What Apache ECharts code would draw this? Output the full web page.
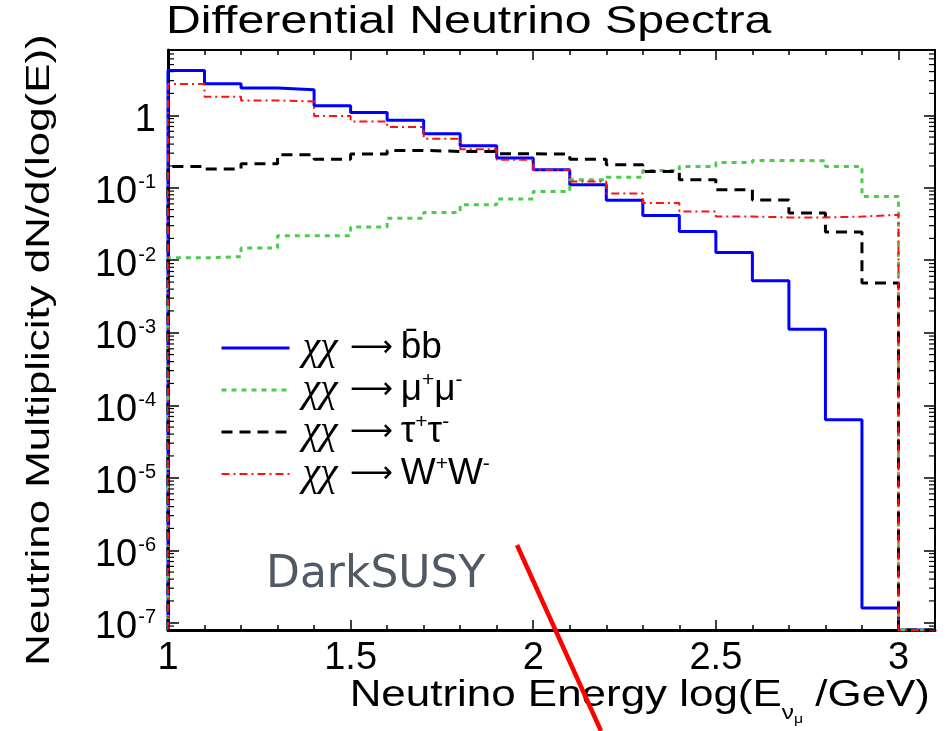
<!DOCTYPE html>
<html>
<head>
<meta charset="utf-8">
<script src="https://cdn.jsdelivr.net/npm/echarts@6/dist/echarts.min.js"></script>
<style>
  html, body { margin: 0; padding: 0; background: #ffffff; }
  #chart { width: 951px; height: 731px; }
</style>
</head>
<body>
<div id="chart"></div>
<script>
// Lower edges of the 0.1-wide bins in log10(E / GeV)
const binLow = [1.0, 1.1, 1.2, 1.3, 1.4, 1.5, 1.6, 1.7, 1.8, 1.9,
                2.0, 2.1, 2.2, 2.3, 2.4, 2.5, 2.6, 2.7, 2.8, 2.9];
const lastEdge = 3.0;
const axisEnd = 3.1;

// Neutrino multiplicity per bin, one array per annihilation channel
const bbbar  = [4.15, 2.72, 2.37, 2.25, 1.35, 1.09, 0.85, 0.556, 0.38, 0.257,
                0.177, 0.11, 0.067, 0.0415, 0.025, 0.0128, 0.0052, 0.00112, 6.3e-5, 1.6e-7];
const mumu   = [0.0108, 0.0112, 0.0147, 0.0218, 0.0218, 0.0287, 0.038, 0.0457, 0.0583, 0.0698,
                0.089, 0.129, 0.14, 0.173, 0.197, 0.223, 0.238, 0.236, 0.197, 0.076];
const tautau = [0.197, 0.181, 0.214, 0.285, 0.248, 0.291, 0.327, 0.317, 0.317, 0.294,
                0.291, 0.248, 0.207, 0.168, 0.129, 0.094, 0.068, 0.0448, 0.0245, 0.00484];
const wwpair = [2.7, 1.8, 1.6, 1.55, 0.98, 0.82, 0.69, 0.475, 0.34, 0.243,
                0.177, 0.122, 0.083, 0.0615, 0.047, 0.040, 0.039, 0.039, 0.040, 0.0424];

// Channel names and their legend text (rich-text superscripts)
const channels = ['χχ → b\u0304b', 'χχ → μ+μ-', 'χχ → τ+τ-', 'χχ → W+W-'];
const channelRich = [
  '{chi|χχ}{arr|⟶}b\u0304b',
  '{chi|χχ}{arr|⟶}μ{sup|+}μ{sup|-}',
  '{chi|χχ}{arr|⟶}τ{sup|+}τ{sup|-}',
  '{chi|χχ}{arr|⟶}W{sup|+}W{sup|-}'
];

// Vertical range: 10^-7.1 .. 10^0.9
const yMin = Math.pow(10, -7.1);
const yMax = Math.pow(10, 0.9);

// Decades and in-between multipliers for the small log ticks
const tickDecades = [1e-8, 1e-7, 1e-6, 1e-5, 1e-4, 1e-3, 1e-2, 1e-1, 1];
const tickMultipliers = [2, 3, 4, 5, 6, 7, 8, 9];

const FONT = 'Liberation Sans, Arial, Helvetica, sans-serif';

// Histogram outline: empty bins sit on the bottom of the frame
function histogram(values) {
  const pts = [[binLow[0], yMin]];
  values.forEach((v, i) => pts.push([binLow[i], v]));
  pts.push([lastEdge, yMin]);
  pts.push([axisEnd, yMin]);
  return pts;
}

const styles = [
  { color: '#0000ff', width: 3, type: 'solid' },
  { color: '#4ccc4c', width: 3, type: [5, 5] },
  { color: '#000000', width: 3, type: [11, 7] },
  { color: '#ff1010', width: 2, type: [8, 4, 2, 4] }
];
const seriesValues = [bbbar, mumu, tautau, wwpair];

const series = seriesValues.map((vals, i) => ({
  name: channels[i],
  type: 'line',
  xAxisIndex: 0,
  yAxisIndex: 0,
  step: 'end',
  symbol: 'none',
  showSymbol: false,
  animation: false,
  clip: true,
  data: histogram(vals),
  lineStyle: { color: styles[i].color, width: styles[i].width, type: styles[i].type },
  itemStyle: { color: styles[i].color }
}));

// Logarithmic minor ticks on the left and right frame edges
const minorTickValues = [];
tickDecades.forEach(d => tickMultipliers.forEach(m => {
  const v = d * m;
  if (v > yMin && v < yMax) minorTickValues.push([1, v]);
}));
series.push({
  type: 'custom',
  name: 'minor ticks',
  coordinateSystem: 'cartesian2d',
  xAxisIndex: 0,
  yAxisIndex: 0,
  silent: true,
  animation: false,
  clip: false,
  z: 5,
  encode: { x: 0, y: 1 },
  data: minorTickValues,
  renderItem: function (params, api) {
    const p = api.coord([1, api.value(1)]);
    const cs = params.coordSys;
    const len = 6;
    return {
      type: 'group',
      children: [
        { type: 'line', shape: { x1: cs.x, y1: p[1], x2: cs.x + len, y2: p[1] },
          style: { stroke: '#000', lineWidth: 1.2 } },
        { type: 'line', shape: { x1: cs.x + cs.width - len, y1: p[1], x2: cs.x + cs.width, y2: p[1] },
          style: { stroke: '#000', lineWidth: 1.2 } }
      ]
    };
  }
});

function yLabel(v) {
  const e = Math.round(Math.log10(v));
  return e === 0 ? '{m|1}' : '{m|10}{sup|' + e + '}';
}

const frameTicksX = {
  type: 'value', min: 1, max: axisEnd, interval: 0.5,
  splitLine: { show: false },
  axisTick: { show: true, inside: true, length: 10, lineStyle: { color: '#000', width: 1.5 } },
  minorTick: { show: true, splitNumber: 5, length: 5, lineStyle: { color: '#000', width: 1.5 } },
  minorSplitLine: { show: false }
};
const frameTicksY = {
  type: 'log', min: yMin, max: yMax, logBase: 10,
  splitLine: { show: false },
  axisTick: { show: true, inside: true, length: 11, lineStyle: { color: '#000', width: 1.5 } },
  minorTick: { show: false },
  minorSplitLine: { show: false }
};

const option = {
  backgroundColor: '#ffffff',
  animation: false,
  grid: { left: 168, right: 16, top: 50, bottom: 101, containLabel: false },
  xAxis: [
    Object.assign({}, frameTicksX, {
      position: 'bottom',
      axisLine: { show: true, onZero: false, lineStyle: { color: '#000', width: 3 } },
      axisLabel: { show: true, fontFamily: FONT, fontSize: 38, color: '#000', margin: 10,
                   showMaxLabel: false, showMinLabel: true }
    }),
    Object.assign({}, frameTicksX, {
      position: 'top',
      axisLine: { show: true, onZero: false, lineStyle: { color: '#000', width: 2 } },
      axisLabel: { show: false }
    })
  ],
  yAxis: [
    Object.assign({}, frameTicksY, {
      position: 'left',
      axisLine: { show: true, onZero: false, lineStyle: { color: '#000', width: 3 } },
      axisLabel: {
        show: true, showMinLabel: false, showMaxLabel: false, margin: 12,
        color: '#000', fontFamily: FONT, fontSize: 38,
        formatter: yLabel,
        rich: {
          m: { fontFamily: FONT, fontSize: 38, color: '#000', verticalAlign: 'top', padding: [10, 0, 0, 0] },
          sup: { fontFamily: FONT, fontSize: 20, color: '#000', verticalAlign: 'top', padding: [9, 0, 0, 1] }
        }
      }
    }),
    Object.assign({}, frameTicksY, {
      position: 'right',
      axisLine: { show: true, onZero: false, lineStyle: { color: '#000', width: 2 } },
      axisLabel: { show: false }
    })
  ],
  legend: {
    orient: 'vertical', left: 215, top: 323,
    itemWidth: 68, itemHeight: 14, itemGap: 2,
    selectedMode: false,
    itemStyle: { opacity: 0 },
    lineStyle: { width: 'inherit' },
    data: channels,
    formatter: name => channelRich[channels.indexOf(name)],
    textStyle: {
      fontFamily: FONT, fontSize: 37, color: '#000', lineHeight: 40, padding: [0, 0, 0, 8],
      rich: {
        chi: { fontFamily: 'Liberation Serif, DejaVu Serif, serif', fontStyle: 'italic', fontSize: 40,
               color: '#000', padding: [0, 12, 0, 0] },
        arr: { fontFamily: 'DejaVu Sans, sans-serif', fontSize: 30, color: '#000', padding: [0, 8, 0, 0] },
        sup: { fontFamily: FONT, fontSize: 21, color: '#000', verticalAlign: 'top', padding: [0, 0, 0, 0] }
      }
    }
  },
  graphic: [
    {
      type: 'text', x: 166, y: 23, scaleX: 1.27, silent: true,
      style: { text: 'Differential Neutrino Spectra', font: '38px ' + FONT, fill: '#000',
               align: 'left', verticalAlign: 'middle' }
    },
    {
      type: 'text', x: 40, y: 350, rotation: Math.PI / 2, scaleX: 1.29, silent: true,
      style: { text: 'Neutrino Multiplicity dN/d(log(E))', font: '34px ' + FONT, fill: '#000',
               align: 'center', verticalAlign: 'middle' }
    },
    {
      type: 'text', x: 930, y: 678, scaleX: 1.22, silent: true,
      style: {
        text: '{m|Neutrino Energy log(E}{nu|ν}{mu|μ}{m| /GeV)}',
        align: 'right', verticalAlign: 'top',
        rich: {
          m: { fontFamily: FONT, fontSize: 36, fill: '#000', verticalAlign: 'top', padding: [0, 0, 0, 0] },
          nu: { fontFamily: FONT, fontSize: 20, fill: '#000', verticalAlign: 'top', padding: [25, 0, 0, 0] },
          mu: { fontFamily: FONT, fontSize: 13, fill: '#000', verticalAlign: 'top', padding: [35, 0, 0, 0] }
        }
      }
    },
    {
      type: 'text', x: 266, y: 576, silent: true,
      style: { text: 'DarkSUSY', font: '44px DejaVu Sans, sans-serif', fill: '#4f5a66',
               align: 'left', verticalAlign: 'middle' }
    },
    {
      type: 'line', silent: true, z: 100,
      shape: { x1: 517, y1: 545, x2: 601, y2: 731 },
      style: { stroke: '#ff0000', lineWidth: 4.5 }
    }
  ],
  series: series
};

const chart = echarts.init(document.getElementById('chart'), null, { renderer: 'canvas' });
chart.setOption(option);
</script>
</body>
</html>
